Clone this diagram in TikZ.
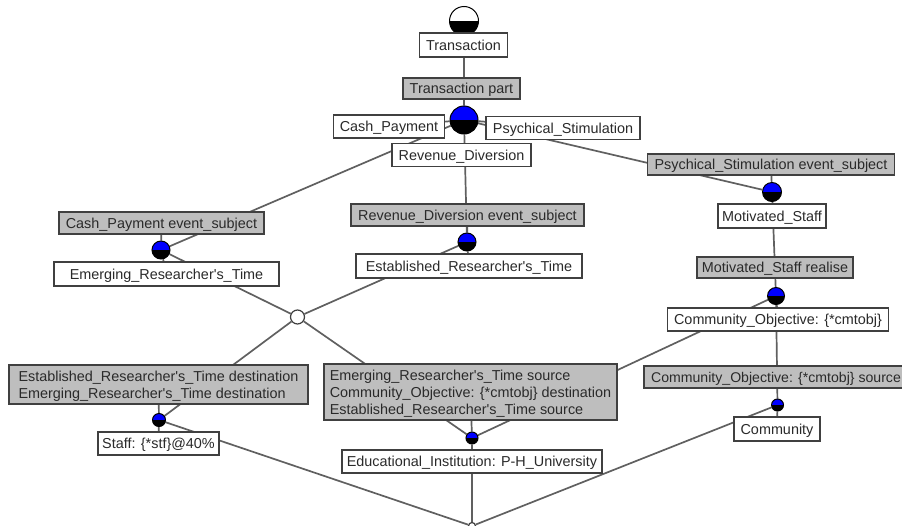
\documentclass[tikz,border=0pt]{standalone}
\usepackage{fontspec}
\setmainfont{Liberation Sans}
\newcommand{\qq}{\textquotesingle}
\definecolor{edgegray}{HTML}{606060}
\definecolor{boxline}{HTML}{404040}
\definecolor{boxgray}{HTML}{BEBEBE}
\definecolor{textdark}{HTML}{2A2A2A}
\tikzset{
  edge/.style={draw=edgegray,line width=1.7pt},
  boxbase/.style={draw=boxline,line width=1.3pt,rectangle,inner sep=0pt,text=textdark,font=\fontsize{14.4}{17}\selectfont,align=left},
  whitebox/.style={boxbase,fill=white,text height=12pt,text depth=2pt},
  graybox/.style={boxbase,fill=boxgray,text height=12pt,text depth=2pt},
  grayblock/.style={boxbase,fill=boxgray,text depth=0pt},
  halfdot/.style={circle,draw=black,line width=1pt,inner sep=0pt,path picture={
    \fill[blue] (path picture bounding box.north west) rectangle (path picture bounding box.east);
    \fill[black] (path picture bounding box.west) rectangle (path picture bounding box.south east);}},
  topdot/.style={circle,draw=black,line width=1pt,inner sep=0pt,path picture={
    \fill[white] (path picture bounding box.north west) rectangle (path picture bounding box.east);
    \fill[black] (path picture bounding box.west) rectangle (path picture bounding box.south east);}},
  hollow/.style={circle,draw=boxline,fill=white,line width=1.2pt,inner sep=0pt}
}
\pgfdeclarelayer{edgelayer}
\pgfdeclarelayer{dotlayer}
\pgfsetlayers{edgelayer,dotlayer,main}
\begin{document}
\begin{tikzpicture}[x=1pt,y=-1pt]
\useasboundingbox (0,0) rectangle (902,525);
\begin{pgfonlayer}{dotlayer}
\node[topdot,minimum size=29pt] (c0) at (464,21) {};
\node[halfdot,minimum size=28pt] (c1) at (464,120) {};
\node[halfdot,minimum size=18pt] (c2) at (161,250) {};
\node[halfdot,minimum size=18pt] (c3) at (467,242) {};
\node[halfdot,minimum size=19pt] (c4) at (772,192) {};
\node[halfdot,minimum size=17pt] (c5) at (776,296) {};
\node[halfdot,minimum size=12pt] (c6) at (777.5,405) {};
\node[halfdot,minimum size=13pt] (c7) at (159,420) {};
\node[halfdot,minimum size=12pt] (c8) at (472,438) {};
\node[hollow,minimum size=14pt] (h1) at (297.5,317) {};
\node[hollow,minimum size=7pt] (h2) at (472,526) {};
\end{pgfonlayer}
\node[whitebox,minimum width=88pt,minimum height=24pt] (n1) at (463.5,45) {Transaction};
\node[graybox,minimum width=117pt,minimum height=21pt] (n2) at (461.5,88.5) {Transaction part};
\node[whitebox,minimum width=111pt,minimum height=23pt] (n3) at (389,126.5) {Cash\_Payment};
\node[whitebox,minimum width=154pt,minimum height=23pt] (n4) at (563,128) {Psychical\_Stimulation};
\node[whitebox,minimum width=139pt,minimum height=23pt] (n5) at (461.5,155) {Revenue\_Diversion};
\node[graybox,minimum width=205pt,minimum height=22pt] (n6) at (161.5,223) {Cash\_Payment event\_subject};
\node[whitebox,minimum width=225pt,minimum height=24pt] (n7) at (166.5,274) {Emerging\_Researcher\qq s\_Time};
\node[graybox,minimum width=233pt,minimum height=22pt] (n8) at (467.5,215) {Revenue\_Diversion event\_subject};
\node[whitebox,minimum width=226pt,minimum height=24pt] (n9) at (469,266) {Established\_Researcher\qq s\_Time};
\node[graybox,minimum width=247pt,minimum height=21pt] (n10) at (771,164.5) {Psychical\_Stimulation event\_subject};
\node[whitebox,minimum width=108pt,minimum height=24pt] (n11) at (772,216) {Motivated\_Staff};
\node[graybox,minimum width=156pt,minimum height=21pt] (n12) at (775,267.5) {Motivated\_Staff realise};
\node[whitebox,minimum width=221pt,minimum height=23pt] (n13) at (778,319.5) {Community\_Objective: \{*cmtobj\}};
\node[graybox,minimum width=264pt,minimum height=22pt,font=\fontsize{14.1}{17}\selectfont] (n14) at (776,377) {Community\_Objective: \{*cmtobj\} source};
\node[whitebox,minimum width=86pt,minimum height=24pt] (n15) at (777,429) {Community};
\node[grayblock,minimum width=299pt,minimum height=39pt] (n16) at (158.5,384.5) {Established\_Researcher\qq s\_Time destination\\Emerging\_Researcher\qq s\_Time destination};
\node[whitebox,minimum width=121pt,minimum height=23pt] (n17) at (158.5,443.5) {Staff: \{*stf\}@40\%};
\node[grayblock,minimum width=293pt,minimum height=56pt] (n18) at (470.5,392) {Emerging\_Researcher\qq s\_Time source\\Community\_Objective: \{*cmtobj\} destination\\Established\_Researcher\qq s\_Time source};
\node[whitebox,minimum width=260pt,minimum height=23pt] (n19) at (472,461.5) {Educational\_Institution: P-H\_University};
\begin{pgfonlayer}{edgelayer}
\path[edge]
  (c0) -- (c1)
  (c1) -- (n3) (c1) -- (n4)
  (c1) -- (c2) (c1) -- (c3) (c1) -- (c4)
  (c2) -- (n6) (c2) -- (n7) (c3) -- (n8) (c3) -- (n9)
  (c4) -- (n10) (c4) -- (c5) (c5) -- (c6)
  (c5) -- (n13) (c6) -- (n15)
  (c7) -- (n16) (c7) -- (n17) (c8) -- (n18) (c8) -- (h2)
  (c2) -- (h1) (c3) -- (h1)
  (h1) -- (c7) (h1) -- (c8)
  (c5) -- (c8)
  (c7) -- (h2) (c6) -- (h2);
\end{pgfonlayer}
\end{tikzpicture}
\end{document}
